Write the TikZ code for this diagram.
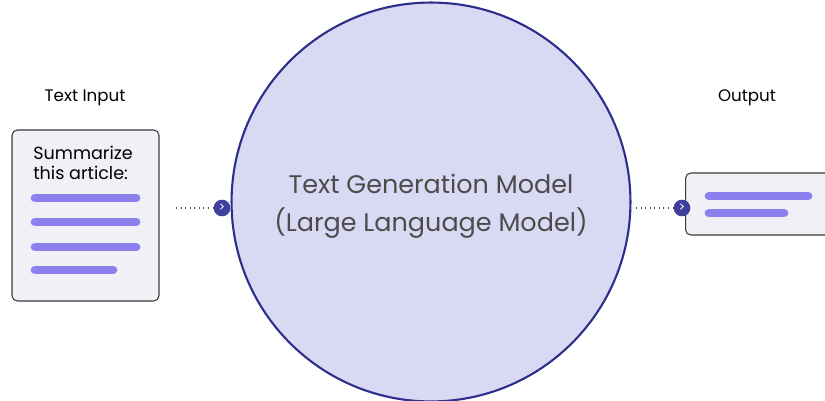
\documentclass[tikz,border=0pt]{standalone}
\usepackage{fontspec}
\setmainfont{Poppins}
\usetikzlibrary{positioning}

\definecolor{llmfill}{HTML}{D9D9F3}
\definecolor{llmline}{HTML}{2E2E8C}
\definecolor{boxfill}{HTML}{F0F0F6}
\definecolor{boxline}{HTML}{3A3A3A}
\definecolor{barcol}{HTML}{8C7FEE}
\definecolor{markcol}{HTML}{3F3F9C}

\tikzset{
  docbox/.style={draw=boxline, fill=boxfill, rounded corners=3pt, line width=0.6pt, inner sep=0pt},
  bar/.style={barcol, line width=5pt, line cap=round},
  arrowmark/.style={circle, fill=markcol, text=white, minimum size=9.5pt, inner sep=0pt, font=\fontsize{7}{7}\selectfont},
  feed/.style={dotted, line width=0.6pt, black!70},
  caption/.style={font=\fontsize{9.5}{11}\selectfont}
}

\begin{document}
\begin{tikzpicture}[x=0.02cm, y=-0.02cm]
\useasboundingbox (0,0) rectangle (825,401);
\clip (0,0) rectangle (825,401);

% model in the middle
\node[circle, draw=llmline, fill=llmfill, line width=1.2pt, minimum size=7.98cm] (llm) at (431,202) {};
\node[font=\fontsize{14.5}{21.5}\selectfont, align=center, text=black!70] (llmtext) at (431,206) {Text Generation Model\\(Large Language Model)};

% input side
\node[docbox, minimum width=2.94cm, minimum height=3.42cm] (inbox) at (85.5,215.5) {};
\node[caption] (intitle) at (85,98) {Text Input};
\node[font=\fontsize{10}{11.5}\selectfont, align=left, anchor=north west, inner sep=0pt] (prompt) at (33,146) {Summarize\\this article:};
\draw[bar] (35,198) -- (136,198);
\draw[bar] (35,222) -- (136,222);
\draw[bar] (35,247) -- (136,247);
\draw[bar] (35,270) -- (113,270);

\node[arrowmark] (inmark) at (222,208) {>};
\coordinate (instart) at (176,208);
\draw[feed] (instart) -- (inmark);

% output side
\node[docbox, minimum width=3.0cm, minimum height=1.24cm, anchor=west] (outbox) at (685,204) {};
\node[caption] (outtitle) at (747,98) {Output};
\draw[bar] (709,196) -- (808,196);
\draw[bar] (709,213) -- (784,213);

\node[arrowmark] (outmark) at (682,208) {>};
\coordinate (outstart) at (636,208);
\draw[feed] (outstart) -- (outmark);
\end{tikzpicture}
\end{document}
